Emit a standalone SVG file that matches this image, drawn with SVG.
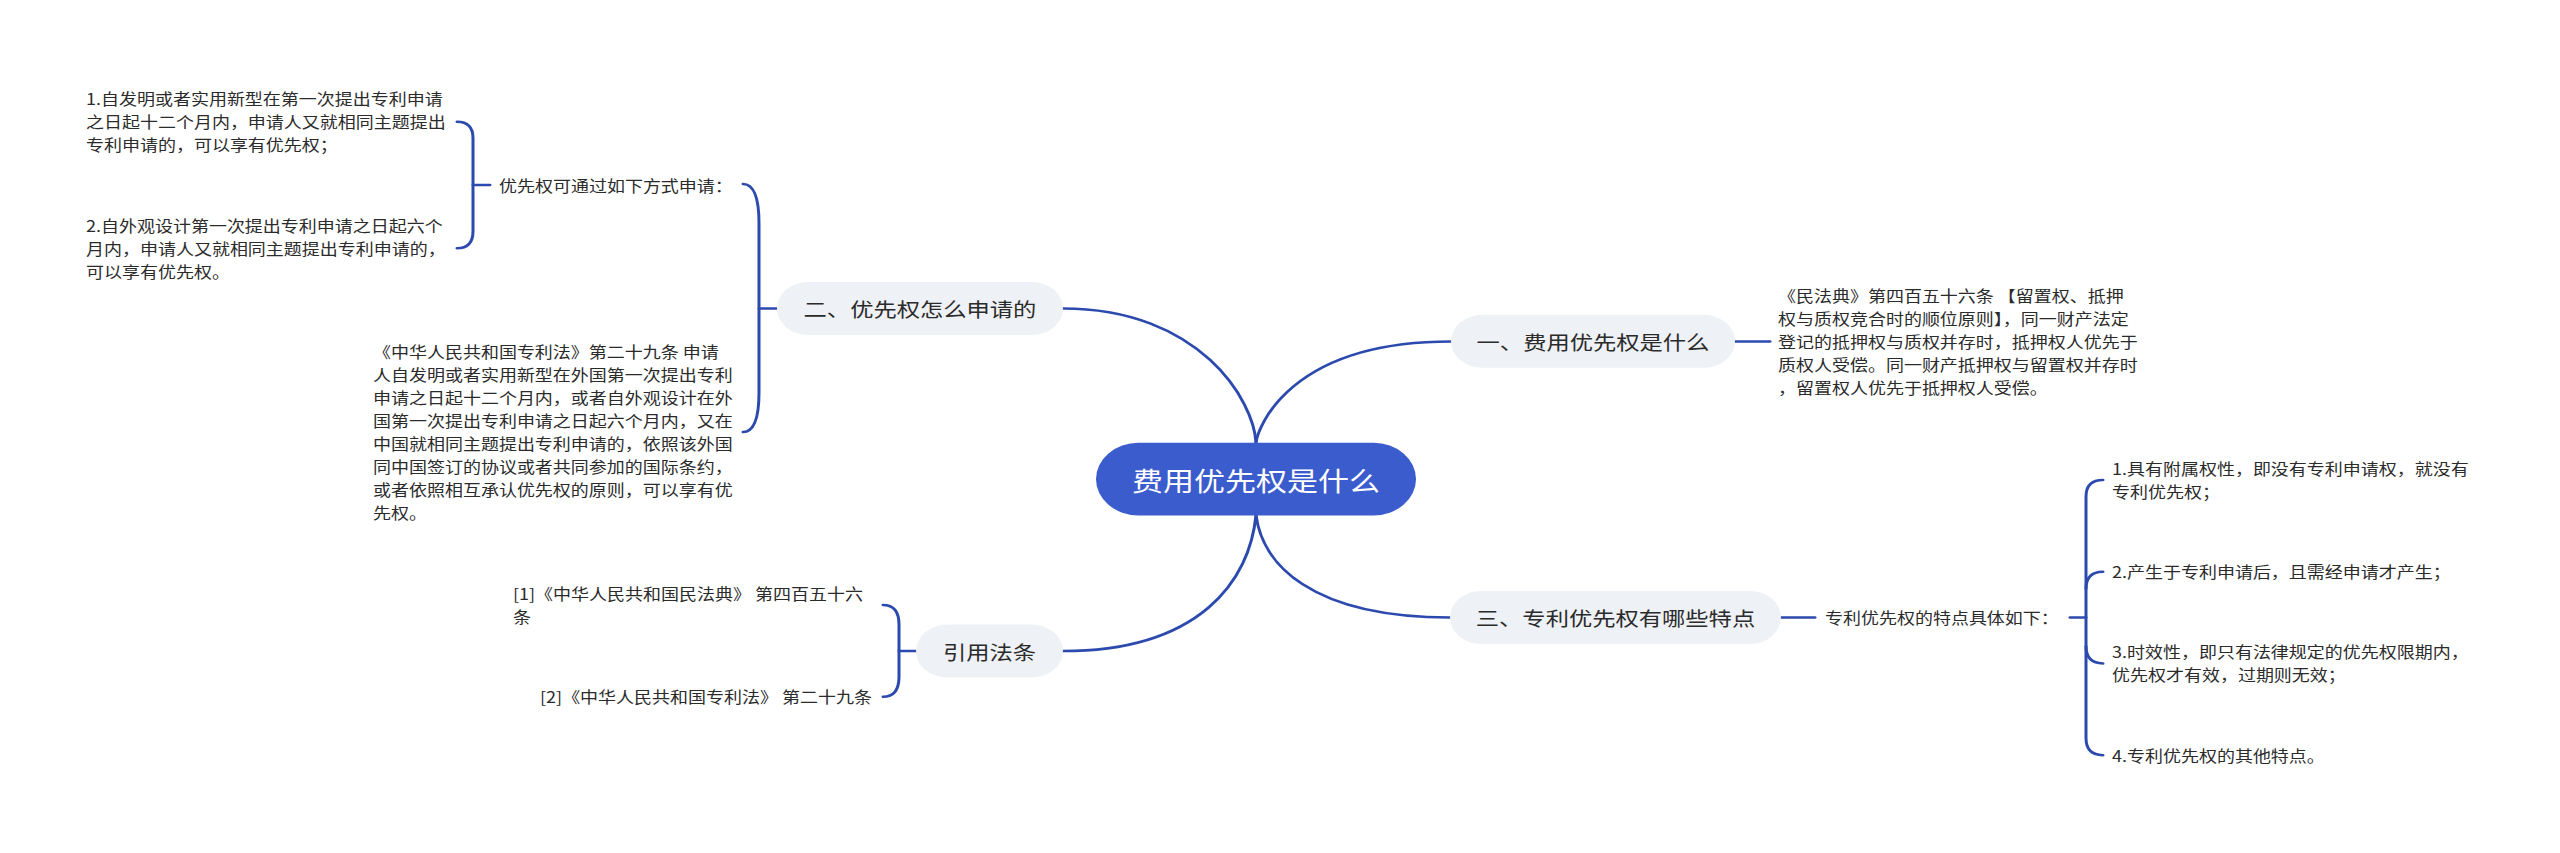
<svg xmlns="http://www.w3.org/2000/svg" width="2560" height="853" viewBox="0 0 2560 853">
<style>
.conn{fill:none;stroke:#2c4aae;stroke-width:3;stroke-linecap:round}
.node{fill:#eef1f5}
.rootbox{fill:#3b5ccd}
.t{font-family:"Noto Sans CJK SC","Noto Sans",sans-serif;fill:#2b2b2b;dominant-baseline:central}
.s{font-size:18px}
.b{font-size:23.3px;text-anchor:middle}
.r{font-size:31px;fill:#ffffff;text-anchor:middle}
</style>
<rect x="0" y="0" width="2560" height="853" fill="#ffffff"/>
<g transform="scale(1,0.8533)">
<g id="connectors">
<path class="conn" d="M1256,519 C1258,500 1290,400.2 1451,400.2"/>
<path class="conn" d="M1256,519 C1254,470 1200,361.5 1063,361.5"/>
<path class="conn" d="M1256,603.5 C1262,660 1310,723.7 1450,723.7"/>
<path class="conn" d="M1256,603.5 C1250,680 1200,763 1063,763"/>
<path class="conn" d="M1735,400.2 L1770,400.2"/>
<path class="conn" d="M1781,723.7 L1815,723.7"/>
<path class="conn" d="M2070,723.7 L2086,723.7"/>
<path class="conn" d="M2103,562.5 Q2086,562.5 2086,582 L2086,865 Q2086,885 2103,885"/>
<path class="conn" d="M2086,690 Q2086,670 2103,670"/>
<path class="conn" d="M2086,757.5 Q2086,777.5 2103,777.5"/>
<path class="conn" d="M776.5,361.5 L759,361.5"/>
<path class="conn" d="M743,215.6 C755,215.6 759,235 759,262 L759,460 C759,487 755,506.3 743,506.3"/>
<path class="conn" d="M490,216.8 L473,216.8"/>
<path class="conn" d="M457,142.6 Q473,142.6 473,162 L473,271 Q473,291 457,291"/>
<path class="conn" d="M916,763 L899,763"/>
<path class="conn" d="M883,709 C895,709 899,718 899,732 L899,793 C899,807 895,816.5 883,816.5"/>
</g>
<g id="root">
<rect class="rootbox" x="1096" y="519" width="320" height="85" rx="42.5" ry="42.5"/>
<text class="t r" x="1256" y="561.5">费用优先权是什么</text>
</g>
<g id="node-1">
<rect class="node" x="1451" y="369" width="284" height="62" rx="31" ry="31"/>
<text class="t b" x="1593" y="400.2">一、费用优先权是什么</text>
</g>
<g id="node-1-detail">
<text class="t s" x="1778">
<tspan x="1778" y="346.4">《民法典》第四百五十六条 【留置权、抵押</tspan>
<tspan x="1778" y="373.4">权与质权竞合时的顺位原则】，同一财产法定</tspan>
<tspan x="1778" y="400.4">登记的抵押权与质权并存时，抵押权人优先于</tspan>
<tspan x="1778" y="427.4">质权人受偿。同一财产抵押权与留置权并存时</tspan>
<tspan x="1778" y="454.4">，留置权人优先于抵押权人受偿。</tspan>
</text>
</g>
<g id="node-2">
<rect class="node" x="777" y="330.5" width="286" height="62" rx="31" ry="31"/>
<text class="t b" x="920" y="361.5">二、优先权怎么申请的</text>
</g>
<g id="node-2-ways">
<text class="t s" x="499" y="217">优先权可通过如下方式申请：</text>
</g>
<g id="node-2-way-1">
<text class="t s" x="86">
<tspan x="86" y="115.6">1.自发明或者实用新型在第一次提出专利申请</tspan>
<tspan x="86" y="142.6">之日起十二个月内，申请人又就相同主题提出</tspan>
<tspan x="86" y="169.6">专利申请的，可以享有优先权；</tspan>
</text>
</g>
<g id="node-2-way-2">
<text class="t s" x="86">
<tspan x="86" y="264">2.自外观设计第一次提出专利申请之日起六个</tspan>
<tspan x="86" y="291">月内，申请人又就相同主题提出专利申请的，</tspan>
<tspan x="86" y="318">可以享有优先权。</tspan>
</text>
</g>
<g id="node-2-law">
<text class="t s" x="373">
<tspan x="373" y="411.8">《中华人民共和国专利法》第二十九条 申请</tspan>
<tspan x="373" y="438.8">人自发明或者实用新型在外国第一次提出专利</tspan>
<tspan x="373" y="465.8">申请之日起十二个月内，或者自外观设计在外</tspan>
<tspan x="373" y="492.8">国第一次提出专利申请之日起六个月内，又在</tspan>
<tspan x="373" y="519.8">中国就相同主题提出专利申请的，依照该外国</tspan>
<tspan x="373" y="546.8">同中国签订的协议或者共同参加的国际条约，</tspan>
<tspan x="373" y="573.8">或者依照相互承认优先权的原则，可以享有优</tspan>
<tspan x="373" y="600.8">先权。</tspan>
</text>
</g>
<g id="node-3">
<rect class="node" x="1450" y="692.7" width="331" height="62" rx="31" ry="31"/>
<text class="t b" x="1615.5" y="723.7">三、专利优先权有哪些特点</text>
</g>
<g id="node-3-intro">
<text class="t s" x="1825" y="723.7">专利优先权的特点具体如下：</text>
</g>
<g id="node-3-item-1">
<text class="t s" x="2112">
<tspan x="2112" y="549">1.具有附属权性，即没有专利申请权，就没有</tspan>
<tspan x="2112" y="576">专利优先权；</tspan>
</text>
</g>
<g id="node-3-item-2">
<text class="t s" x="2112" y="670">2.产生于专利申请后，且需经申请才产生；</text>
</g>
<g id="node-3-item-3">
<text class="t s" x="2112">
<tspan x="2112" y="764">3.时效性，即只有法律规定的优先权限期内，</tspan>
<tspan x="2112" y="791">优先权才有效，过期则无效；</tspan>
</text>
</g>
<g id="node-3-item-4">
<text class="t s" x="2112" y="885">4.专利优先权的其他特点。</text>
</g>
<g id="node-4">
<rect class="node" x="916" y="732" width="147" height="62" rx="31" ry="31"/>
<text class="t b" x="989.5" y="763">引用法条</text>
</g>
<g id="node-4-ref-1">
<text class="t s" x="513">
<tspan x="513" y="695.5">[1]《中华人民共和国民法典》 第四百五十六</tspan>
<tspan x="513" y="722.5">条</tspan>
</text>
</g>
<g id="node-4-ref-2">
<text class="t s" x="540" y="816.5">[2]《中华人民共和国专利法》 第二十九条</text>
</g>
</g>
</svg>
